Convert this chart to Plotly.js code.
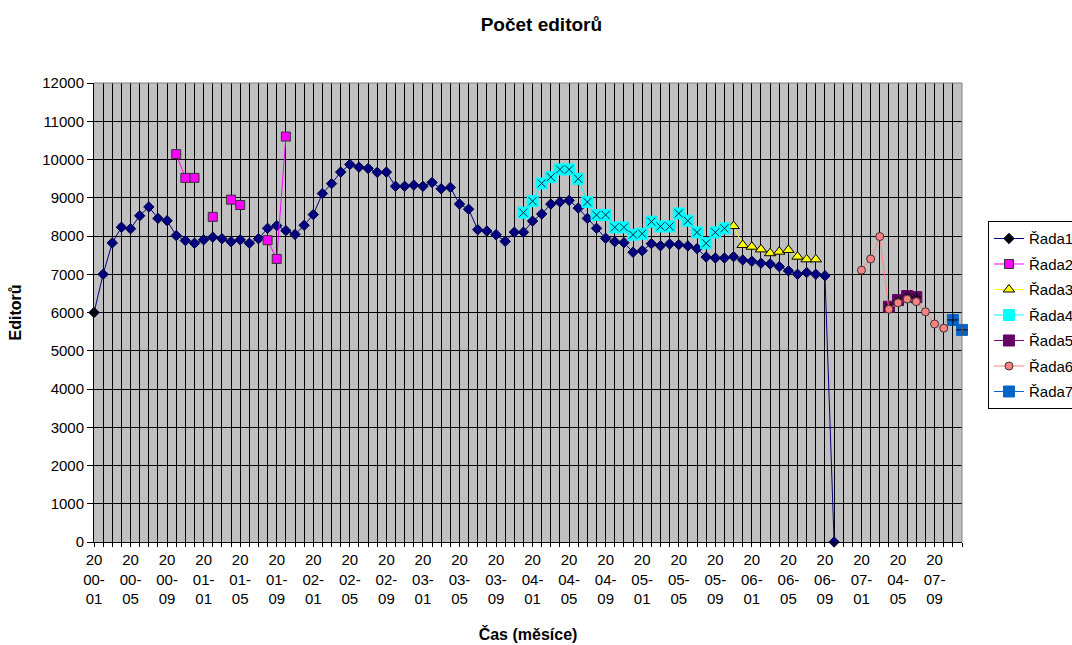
<!DOCTYPE html>
<html>
<head>
<meta charset="utf-8">
<script src="https://cdn.plot.ly/plotly-3.0.1.min.js"></script>
<style>html,body{margin:0;padding:0;background:#fff;overflow:hidden;}#chart{width:1072px;height:645px;}</style>
</head>
<body>
<div id="chart"></div>
<script>
// Tick labels shown every 4th month (as in the source, incl. its "2004-05" label near the end)
const tickLabels = ['2000-01','2000-05','2000-09','2001-01','2001-05','2001-09','2002-01','2002-05','2002-09',
  '2003-01','2003-05','2003-09','2004-01','2004-05','2004-09','2005-01','2005-05','2005-09',
  '2006-01','2006-05','2006-09','2007-01','2004-05','2007-09'];
const firstMonth = '2000-01';
const lastMonth = '2007-12';

// Series: first month + monthly values (null = no value)
const rada1Start = '2000-01';
const rada1 = [6000,7000,7820,8230,8190,8530,8760,8460,8400,8010,
  7880,7810,7900,7970,7930,7850,7900,7810,7930,8200,
  8270,8140,8040,8280,8560,9110,9370,9670,9870,9800,
  9765,9665,9670,9300,9300,9330,9300,9400,9235,9270,
  8835,8700,8165,8130,8035,7860,8100,8100,8390,8575,
  8835,8890,8930,8730,8460,8200,7940,7850,7825,7575,
  7615,7800,7745,7790,7775,7740,7670,7450,7425,7425,
  7460,7375,7340,7290,7270,7200,7090,7000,7045,7000,
  6960,0];
const rada2Start = '2000-10';
const rada2 = [10140,9520,9520,null,8500,null,8950,8810,null,null,7890,7400,10600];
const rada3Start = '2005-11';
const rada3 = [8260,7765,7720,7650,7550,7590,7635,7460,7390,7390];
const rada4Start = '2003-12';
const rada4 = [8610,8910,9375,9540,9740,9740,9495,8890,8550,8550,8225,8225,
  8035,8060,8375,8250,8250,8590,8400,8095,7810,8095,8200];
const rada5Start = '2007-04';
const rada5 = [6150,6325,6430,6400];
const rada6Start = '2007-01';
const rada6 = [7105,7400,7985,6085,6255,6350,6285,6020,5700,5590];
const rada7Start = '2007-11';
const rada7 = [5805,5545];

function monthIndex(s){ const p = s.split('-'); return (+p[0]-2000)*12 + (+p[1]-1); }
function xs(start, vals){ const s = monthIndex(start); return vals.map((v,i)=>s+i); }

const nMonths = monthIndex(lastMonth) - monthIndex(firstMonth) + 1;
const tickvals = [], ticktext = [];
for (let i = 0; i < nMonths; i++) {
  tickvals.push(i);
  if (i % 4 === 0 && tickLabels[i/4]) {
    const t = tickLabels[i/4];
    ticktext.push(t.slice(0,2) + '<br>' + t.slice(2,5) + '<br>' + t.slice(5));
  } else ticktext.push('');
}

const FONT = 'Liberation Sans, Arial, sans-serif';
function series(name, start, vals, color, symbol, size, mcolor, lcolor, extra){
  return Object.assign({
    type:'scatter', mode:'lines+markers', name:name, legendgroup:name,
    x: xs(start, vals), y: vals, connectgaps:false, cliponaxis:false,
    line:{color:color, width:1},
    marker:{symbol:symbol, size:size, color:mcolor, line:{color:lcolor, width:1}}
  }, extra||{});
}
function overlay(name, start, vals, symbol, size, color){
  return {type:'scatter', mode:'markers', name:name, legendgroup:name, showlegend:false,
    x: xs(start, vals), y: vals, cliponaxis:false, hoverinfo:'skip',
    marker:{symbol:symbol, size:size, color:color, line:{color:color, width:1}}};
}

const r1 = series('Řada1', rada1Start, rada1, '#000080', 'diamond', 8, rada1.map((v,i)=> i===0 ? '#000000' : '#000080'), '#000040');
const traces = [
  r1,
  series('Řada2', rada2Start, rada2, '#FF00FF', 'square', 9, '#FF00FF', '#333333'),
  series('Řada3', rada3Start, rada3, '#FFFF00', 'triangle-up', 10, '#FFFF00', '#000000'),
  series('Řada4', rada4Start, rada4, '#00FFFF', 'square', 11, '#00FFFF', '#00FFFF'),
  overlay('Řada4', rada4Start, rada4, 'x-thin-open', 8, '#002040'),
  series('Řada5', rada5Start, rada5, '#800080', 'square', 11, '#660066', '#660066'),
  overlay('Řada5', rada5Start, rada5, 'asterisk-open', 8, '#000000'),
  series('Řada6', rada6Start, rada6, '#FF8080', 'circle', 8, '#FF8080', '#333333'),
  series('Řada7', rada7Start, rada7, '#0066CC', 'square', 11, '#0066CC', '#0066CC'),
  overlay('Řada7', rada7Start, rada7, 'cross-thin-open', 8, '#000000')
];

const layout = {
  width:1072, height:645,
  margin:{l:94, r:110, t:83, b:103, pad:0, autoexpand:false},
  paper_bgcolor:'#FFFFFF', plot_bgcolor:'#C0C0C0',
  font:{family:FONT, color:'#000', size:15},
  showlegend:true,
  title:{text:'<b>Počet editorů</b>', font:{family:FONT, size:19, color:'#000'}, x:0.505, xanchor:'center', y:0.962, yanchor:'middle'},
  xaxis:{
    range:[0, nMonths-1], tickmode:'array', tickvals:tickvals, ticktext:ticktext,
    showgrid:true, gridcolor:'#000000', gridwidth:1,
    showline:true, linecolor:'#000000', linewidth:1,
    ticks:'outside', ticklen:4, tickcolor:'#000', tickangle:0,
    tickfont:{family:FONT, size:15, color:'#000'}, zeroline:false,
    title:{text:'<b>Čas (měsíce)</b>', font:{family:FONT, size:16, color:'#000'}, standoff:22}
  },
  xaxis2:{
    overlaying:'x', matches:'x', range:[0, nMonths-1], tickmode:'array', tickvals:tickvals,
    showticklabels:false, showgrid:false, showline:false, zeroline:false,
    ticks:'inside', ticklen:4, tickcolor:'#000', side:'bottom'
  },
  yaxis:{
    range:[0,12000], dtick:1000, tick0:0, tickformat:'d',
    showgrid:true, gridcolor:'#000000', gridwidth:1,
    showline:true, linecolor:'#000000', linewidth:1,
    ticks:'outside', ticklen:6, tickcolor:'#000',
    tickfont:{family:FONT, size:15, color:'#000'}, zeroline:false,
    title:{text:'<b>Editorů</b>', font:{family:FONT, size:16, color:'#000'}, standoff:16}
  },
  legend:{
    xref:'container', yref:'container',
    x:0.9216, xanchor:'left', y:0.657, yanchor:'top',
    bgcolor:'#FFFFFF', bordercolor:'#000000', borderwidth:1,
    font:{family:FONT, size:15, color:'#000'},
    traceorder:'grouped', tracegroupgap:3, itemwidth:30
  },
  shapes:[
    {type:'line', xref:'paper', yref:'paper', x0:0, x1:1, y0:1, y1:1, line:{color:'#808080', width:1}},
    {type:'line', xref:'paper', yref:'paper', x0:1, x1:1, y0:0, y1:1, line:{color:'#808080', width:1}}
  ]
};

Plotly.newPlot('chart', traces, layout, {staticPlot:true, displayModeBar:false});
</script>
</body>
</html>
